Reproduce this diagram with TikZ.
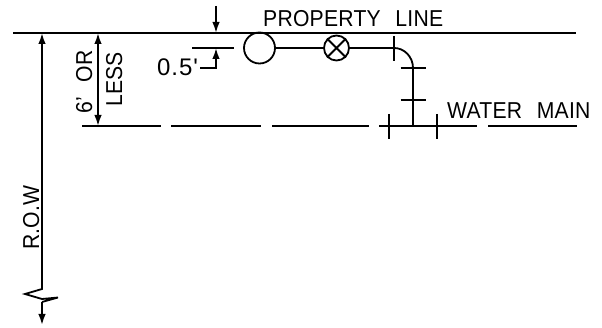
\documentclass[tikz,border=0pt]{standalone}
\usepackage{fontspec}
\setmainfont{Liberation Sans}[FakeStretch=0.92,WordSpace=2.4,LetterSpace=1]
\newfontfamily\halffont{Liberation Sans}[LetterSpace=4]
\usetikzlibrary{arrows.meta}
\tikzset{
 ln/.style={line width=1.8pt,black},
 dim/.style={ln,-{Latex[length=11pt,width=7.5pt]}},
 lblb/.style={inner sep=0pt,font=\fontsize{23}{23}\selectfont},
 lblh/.style={inner sep=0pt,font=\halffont\fontsize{24}{24}\selectfont},
}
\begin{document}
\begin{tikzpicture}[x=1pt,y=-1pt]
\useasboundingbox (0,0) rectangle (602,328);
\draw[ln] (13,33) -- (576,33);
% property line text
\node[lblb,anchor=base west] (pl) at (263,27) {PROPERTY LINE};
\node[lblb,anchor=base west] (wm) at (447,119) {WATER MAIN};
% ROW
\coordinate (rt) at (42,33);
\coordinate (z0) at (42,289);
\coordinate (z1) at (25,294);
\coordinate (z2) at (42,299);
\coordinate (z3) at (58,297.5);
\coordinate (z4) at (42,302);
\coordinate (rb) at (42,325);
\draw[ln,{Latex[length=11pt,width=7.5pt]}-] (rt) -- (z0) -- (z1) -- (z2) -- (z3) -- (z4);
\draw[dim] (z4) -- (rb);
\node[lblb,rotate=90,anchor=base west] (row) at (39,250) {R.O.W};
% 6' or less
\coordinate (a) at (98,33);
\coordinate (b) at (98,126);
\draw[ln,{Latex[length=11pt,width=7.5pt]}-{Latex[length=11pt,width=7.5pt]}] (a) -- (b);
\node[lblb,rotate=90,anchor=base west] (six) at (92,114) {6' OR};
\node[lblb,rotate=90,anchor=base west] (less) at (122,107) {LESS};
% main dashed
\draw[ln] (82,126) -- (161,126);
\draw[ln] (171,126) -- (261,126);
\draw[ln] (272,126) -- (369,126);
\draw[ln] (379,126) -- (477,126);
\draw[ln] (488,126) -- (577,126);
% 0.5
\coordinate (t1) at (216,6);
\coordinate (t2) at (216,33);
\draw[dim] (t1) -- (t2);
\draw[ln] (192,48) -- (234,48);
\coordinate (u1) at (216,48);
\coordinate (u2) at (216,68);
\coordinate (u3) at (200,68);
\draw[ln,{Latex[length=11pt,width=7.5pt]}-] (u1) -- (u2) -- (u3);
\node[lblh,anchor=base west] (half) at (157,76) {0.5'};
% pipe
\node[circle,draw,ln,minimum size=31pt,inner sep=0pt] (hyd) at (259.5,48) {};
\node[circle,draw,ln,minimum size=25pt,inner sep=0pt] (valve) at (336.5,48) {};
\draw[ln] (valve.45) -- (valve.225) (valve.135) -- (valve.315);
\draw[ln] (hyd.east) -- (valve.west);
\coordinate (e1) at (394,48);
\coordinate (e2) at (413,68);
\coordinate (e3) at (413,126);
\draw[ln] (valve.east) -- (e1) .. controls (404.5,48) and (413,57) .. (e2) -- (e3);
\draw[ln] (394,36) -- (394,61);
\draw[ln] (400.5,68) -- (426,68);
\draw[ln] (400.5,100) -- (426,100);
\draw[ln] (389,114) -- (389,139);
\draw[ln] (437,114) -- (437,139);
\end{tikzpicture}
\end{document}
